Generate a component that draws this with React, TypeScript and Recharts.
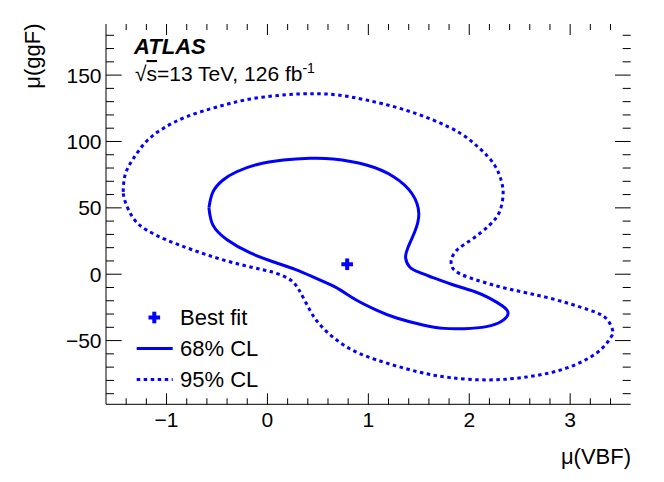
import { ComposedChart, Line, Scatter, XAxis, YAxis, Legend } from "recharts";

// best-fit point and the two confidence contours
const bestFit = [{ x: 0.79, y: 7.5 }];

const cl68 = [
  { x: -0.58, y: 50 },
  { x: -0.54, y: 62 },
  { x: -0.44, y: 71 },
  { x: -0.31, y: 77 },
  { x: -0.11, y: 82.5 },
  { x: 0.16, y: 86 },
  { x: 0.42, y: 87.3 },
  { x: 0.65, y: 86.8 },
  { x: 0.98, y: 82.3 },
  { x: 1.25, y: 73.5 },
  { x: 1.43, y: 61 },
  { x: 1.5, y: 46 },
  { x: 1.46, y: 32 },
  { x: 1.39, y: 19.6 },
  { x: 1.37, y: 12 },
  { x: 1.41, y: 5.5 },
  { x: 1.5, y: 1.5 },
  { x: 1.64, y: -2.5 },
  { x: 1.86, y: -8.5 },
  { x: 2.05, y: -13 },
  { x: 2.2, y: -18 },
  { x: 2.33, y: -24 },
  { x: 2.385, y: -29.5 },
  { x: 2.32, y: -35.5 },
  { x: 2.17, y: -39.5 },
  { x: 1.95, y: -41 },
  { x: 1.75, y: -40.8 },
  { x: 1.54, y: -38.2 },
  { x: 1.28, y: -33 },
  { x: 1.08, y: -27 },
  { x: 0.88, y: -19.4 },
  { x: 0.72, y: -11.8 },
  { x: 0.59, y: -6.8 },
  { x: 0.45, y: -2 },
  { x: 0.28, y: 3.5 },
  { x: 0.07, y: 9 },
  { x: -0.17, y: 16 },
  { x: -0.4, y: 26 },
  { x: -0.54, y: 37 },
  { x: -0.58, y: 50 },
];

const cl95 = [
  { x: -1.43, y: 62 },
  { x: -1.41, y: 75 },
  { x: -1.33, y: 87 },
  { x: -1.2, y: 100 },
  { x: -1.03, y: 110 },
  { x: -0.8, y: 118.7 },
  { x: -0.5, y: 126 },
  { x: -0.17, y: 132 },
  { x: 0.19, y: 135.2 },
  { x: 0.45, y: 136 },
  { x: 0.7, y: 135 },
  { x: 0.98, y: 131.2 },
  { x: 1.31, y: 125 },
  { x: 1.64, y: 116.2 },
  { x: 1.91, y: 106.2 },
  { x: 2.1, y: 95 },
  { x: 2.25, y: 82.3 },
  { x: 2.32, y: 69.7 },
  { x: 2.335, y: 59.7 },
  { x: 2.3, y: 47 },
  { x: 2.2, y: 37 },
  { x: 2.04, y: 27 },
  { x: 1.88, y: 18.3 },
  { x: 1.82, y: 9.5 },
  { x: 1.87, y: 2 },
  { x: 2.07, y: -4.3 },
  { x: 2.4, y: -11.3 },
  { x: 2.8, y: -18.1 },
  { x: 3.19, y: -27 },
  { x: 3.36, y: -33.5 },
  { x: 3.42, y: -42 },
  { x: 3.4, y: -48 },
  { x: 3.26, y: -59.5 },
  { x: 2.96, y: -70.8 },
  { x: 2.6, y: -77.1 },
  { x: 2.2, y: -79.6 },
  { x: 1.81, y: -77.9 },
  { x: 1.48, y: -73.3 },
  { x: 1.08, y: -64.5 },
  { x: 0.78, y: -54.5 },
  { x: 0.55, y: -40.5 },
  { x: 0.42, y: -27 },
  { x: 0.31, y: -11.5 },
  { x: 0.2, y: -3 },
  { x: 0.03, y: 2 },
  { x: -0.14, y: 5 },
  { x: -0.44, y: 10.8 },
  { x: -0.74, y: 18.3 },
  { x: -1.0, y: 25.8 },
  { x: -1.2, y: 33.4 },
  { x: -1.33, y: 42.2 },
  { x: -1.41, y: 54.7 },
  { x: -1.43, y: 62 },
];

const xTicks = [
  -1.4, -1.2, -1, -0.8, -0.6, -0.4, -0.2, 0, 0.2, 0.4, 0.6, 0.8, 1, 1.2, 1.4,
  1.6, 1.8, 2, 2.2, 2.4, 2.6, 2.8, 3, 3.2, 3.4,
];
const xLabels = [-1, 0, 1, 2, 3];
const yTicks = [
  -90, -80, -70, -60, -50, -40, -30, -20, -10, 0, 10, 20, 30, 40, 50, 60, 70,
  80, 90, 100, 110, 120, 130, 140, 150, 160, 170, 180,
];
const yLabels = [-50, 0, 50, 100, 150];
const legendNames = ["Best fit", "68% CL", "95% CL"];

const W = 664;
const H = 482;
const LEFT = 106;
const RIGHT = 630.7;
const TOP = 24;
const BOTTOM = 404.3;
const BLUE = "#0000ff";
const FONT = "'Liberation Sans', Arial, Helvetica, sans-serif";

const fmt = (v: number) => (v < 0 ? `\u2212${-v}` : `${v}`);

const XTick = ({ x, payload }: any) => {
  const major = xLabels.includes(payload.value);
  const len = major ? 11 : 6;
  return (
    <g>
      <line x1={x} x2={x} y1={BOTTOM} y2={BOTTOM - len} stroke="#000" />
      <line x1={x} x2={x} y1={TOP} y2={TOP + len} stroke="#000" />
      {major && (
        <text x={x} y={426.5} textAnchor="middle" fontSize={21} fontFamily={FONT} fill="#000">
          {fmt(payload.value)}
        </text>
      )}
    </g>
  );
};

const YTick = ({ y, payload }: any) => {
  const major = yLabels.includes(payload.value);
  const len = major ? 15.7 : 8;
  return (
    <g>
      <line x1={LEFT} x2={LEFT + len} y1={y} y2={y} stroke="#000" />
      <line x1={RIGHT} x2={RIGHT - len} y1={y} y2={y} stroke="#000" />
      {major && (
        <text x={101.5} y={y} dy="0.36em" textAnchor="end" fontSize={21} fontFamily={FONT} fill="#000">
          {fmt(payload.value)}
        </text>
      )}
    </g>
  );
};

const Cross = ({ cx, cy }: any) => (
  <g fill={BLUE}>
    <rect x={cx - 5.8} y={cy - 2} width={11.6} height={4} />
    <rect x={cx - 2} y={cy - 5.8} width={4} height={11.6} />
  </g>
);

const LegendBox = () => (
  <div style={{ fontFamily: FONT, fontSize: 22, color: "#000" }}>
    {legendNames.map((name, i) => (
      <div key={name} style={{ display: "flex", alignItems: "center", height: 31 }}>
        <svg width={46} height={31}>
          {i === 0 && <Cross cx={24.3} cy={15.5} />}
          {i === 1 && <line x1={6.7} x2={42.7} y1={15.5} y2={15.5} stroke={BLUE} strokeWidth={3} />}
          {i === 2 && (
            <line x1={6.7} x2={42.7} y1={15.5} y2={15.5} stroke={BLUE} strokeWidth={3} strokeDasharray="3.5 3.5" />
          )}
        </svg>
        <span style={{ marginLeft: 4, lineHeight: "31px" }}>{name}</span>
      </div>
    ))}
  </div>
);

export default function App() {
  return (
    <div style={{ position: "absolute", left: 0, top: 0, width: W, height: H, background: "#fff" }}>
      <ComposedChart
        width={W}
        height={H}
        margin={{ top: TOP, right: W - RIGHT, bottom: 47.7, left: 46 }}
      >
        <XAxis
          dataKey="x"
          type="number"
          domain={[-1.6, 3.6]}
          allowDataOverflow
          ticks={xTicks}
          interval={0}
          height={30}
          tickLine={false}
          axisLine={{ stroke: "#000" }}
          tick={<XTick />}
        />
        <XAxis
          xAxisId="top"
          orientation="top"
          type="number"
          domain={[-1.6, 3.6]}
          height={0}
          tick={false}
          tickLine={false}
          axisLine={{ stroke: "#000" }}
        />
        <YAxis
          dataKey="y"
          type="number"
          domain={[-98, 188.5]}
          allowDataOverflow
          ticks={yTicks}
          interval={0}
          width={60}
          tickLine={false}
          axisLine={{ stroke: "#000" }}
          tick={<YTick />}
        />
        <YAxis
          yAxisId="right"
          orientation="right"
          type="number"
          domain={[-98, 188.5]}
          width={0}
          tick={false}
          tickLine={false}
          axisLine={{ stroke: "#000" }}
        />
        <Line
          data={cl95}
          dataKey="y"
          name="95% CL"
          type="natural"
          stroke={BLUE}
          strokeWidth={3}
          strokeDasharray="3.5 3.5"
          dot={false}
          isAnimationActive={false}
        />
        <Line
          data={cl68}
          dataKey="y"
          name="68% CL"
          type="natural"
          stroke={BLUE}
          strokeWidth={3}
          dot={false}
          isAnimationActive={false}
        />
        <Scatter
          data={bestFit}
          dataKey="y"
          name="Best fit"
          fill={BLUE}
          shape={<Cross />}
          isAnimationActive={false}
        />
        <Legend
          layout="vertical"
          align="center"
          verticalAlign="middle"
          wrapperStyle={{ left: 130, top: 302, width: "auto" }}
          content={<LegendBox />}
        />
      </ComposedChart>
      <svg
        width={W}
        height={H}
        style={{ position: "absolute", left: 0, top: 0, pointerEvents: "none" }}
        fontFamily={FONT}
      >
        <text x={134} y={54.3} fontSize={22} fontWeight="bold" fontStyle="italic" fill="#000">
          ATLAS
        </text>
        <text x={135} y={81} fontSize={21} fill="#000">
          √<tspan textDecoration="overline">s</tspan>=13 TeV, 126 fb
          <tspan dy={-8} fontSize={14}>-1</tspan>
        </text>
        <text x={631} y={464} textAnchor="end" fontSize={22} fill="#000">
          μ(VBF)
        </text>
        <text
          x={40}
          y={23.5}
          textAnchor="end"
          fontSize={22}
          fill="#000"
          transform="rotate(-90 40 23.5)"
        >
          μ(ggF)
        </text>
      </svg>
    </div>
  );
}
